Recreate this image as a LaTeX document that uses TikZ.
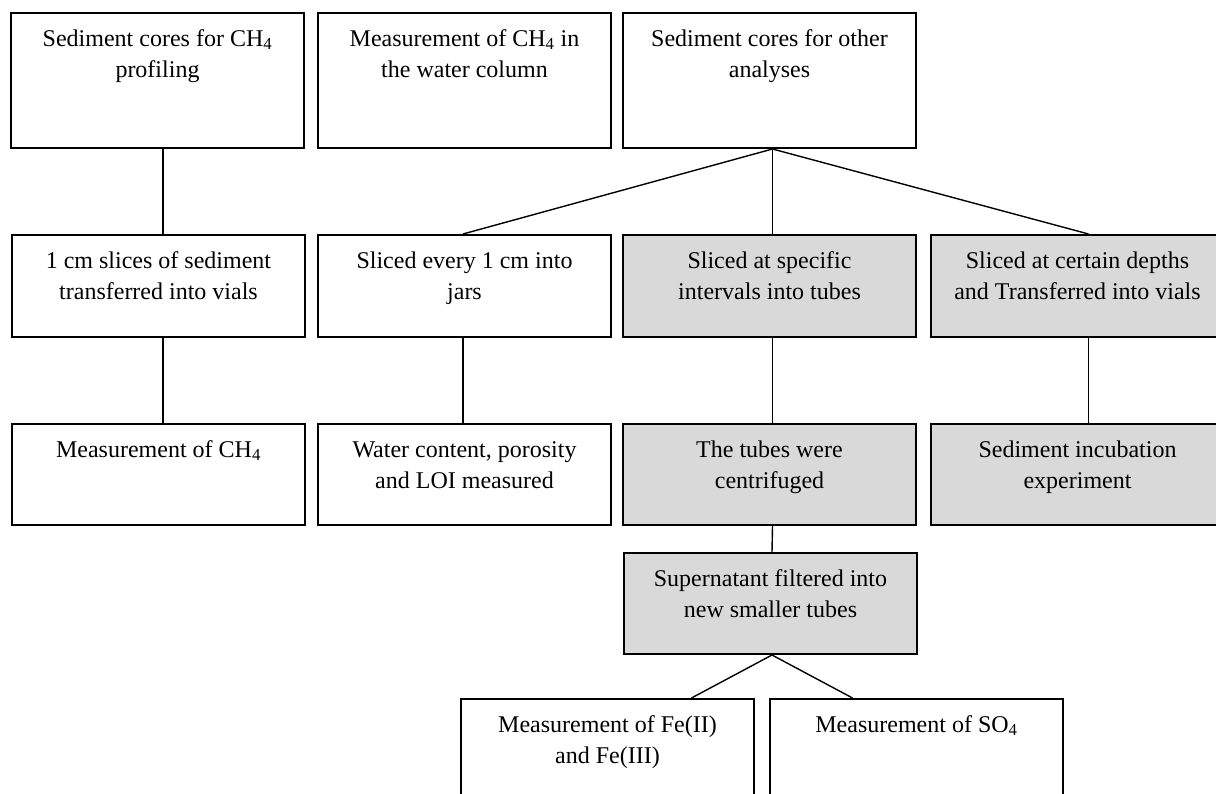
\documentclass[tikz,border=0pt]{standalone}
\usepackage{fontspec}
\setmainfont{Liberation Serif}
\definecolor{boxgray}{HTML}{D9D9D9}
\newcommand{\boxtxt}[2][101pt]{\parbox[t][#1][t]{293pt}{\vspace*{11pt}\centering\strut #2}}
\tikzset{stepbox/.style={draw, line width=2pt, inner sep=0pt, anchor=north west,
                         font=\fontsize{24}{31.5}\selectfont},
         greybox/.style={stepbox, fill=boxgray},
         link/.style={line width=1.4pt}}

\begin{document}
\begin{tikzpicture}[x=1pt,y=-1pt]
        \useasboundingbox (0,0) rectangle (1216,794);
        \clip (0,0) rectangle (1216,794);
        \node[stepbox] (cores)  at (10,12)  {\boxtxt[135pt]{Sediment cores for CH\textsubscript{4}\\ profiling}};
        \node[stepbox] (water)  at (317,12) {\boxtxt[135pt]{Measurement of CH\textsubscript{4} in\\ the water column}};
        \node[stepbox] (other)  at (622,12) {\boxtxt[135pt]{Sediment cores for other\\ analyses}};
        \node[stepbox] (slices) at (11,234)  {\boxtxt[102pt]{1 cm slices of sediment\\ transferred into vials}};
        \node[stepbox] (jars)   at (317,234) {\boxtxt[102pt]{Sliced every 1 cm into\\ jars}};
        \node[greybox] (tubes)  at (622,234) {\boxtxt[102pt]{Sliced at specific\\ intervals into tubes}};
        \node[greybox] (vials)  at (930,234) {\boxtxt[102pt]{Sliced at certain depths\\ and Transferred into vials}};
        \node[stepbox] (methane) at (11,423)  {\boxtxt{Measurement of CH\textsubscript{4}}};
        \node[stepbox] (loi)     at (317,423) {\boxtxt{Water content, porosity\\ and LOI measured}};
        \node[greybox] (centri)  at (622,423) {\boxtxt{The tubes were\\ centrifuged}};
        \node[greybox] (incub)   at (930,423) {\boxtxt{Sediment incubation\\ experiment}};
        \node[greybox] (super)   at (623,552) {\boxtxt{Supernatant filtered into\\ new smaller tubes}};
        \node[stepbox] (iron)    at (460,698) {\boxtxt{Measurement of Fe(II)\\ and Fe(III)}};
        \node[stepbox] (sulfate) at (769,698) {\boxtxt{Measurement of SO\textsubscript{4}}};
        \draw[link] ([xshift=5.5pt]cores.south) -- ([xshift=4.5pt]slices.north);
        \draw[link] ([xshift=4.5pt]slices.south) -- ([xshift=4.5pt]methane.north);
        \draw[link] ([xshift=-1.5pt]jars.south) -- ([xshift=-1.5pt]loi.north);
        \draw[link] ([xshift=3pt]other.south) -- ([xshift=-1.5pt]jars.north);
        \draw[link] ([xshift=3pt]other.south) -- ([xshift=3pt]tubes.north);
        \draw[link] ([xshift=3pt]other.south) -- ([xshift=11pt]vials.north);
        \draw[link] ([xshift=3pt]tubes.south) -- ([xshift=3pt]centri.north);
        \draw[link] ([xshift=11pt]vials.south) -- ([xshift=11pt]incub.north);
        \draw[link] ([xshift=3pt]centri.south) -- ([xshift=1.5pt]super.north);
        \draw[link] ([xshift=1.5pt]super.south) -- ([xshift=84pt]iron.north);
        \draw[link] ([xshift=1.5pt]super.south) -- ([xshift=-64pt]sulfate.north);
    \end{tikzpicture}
\end{document}
